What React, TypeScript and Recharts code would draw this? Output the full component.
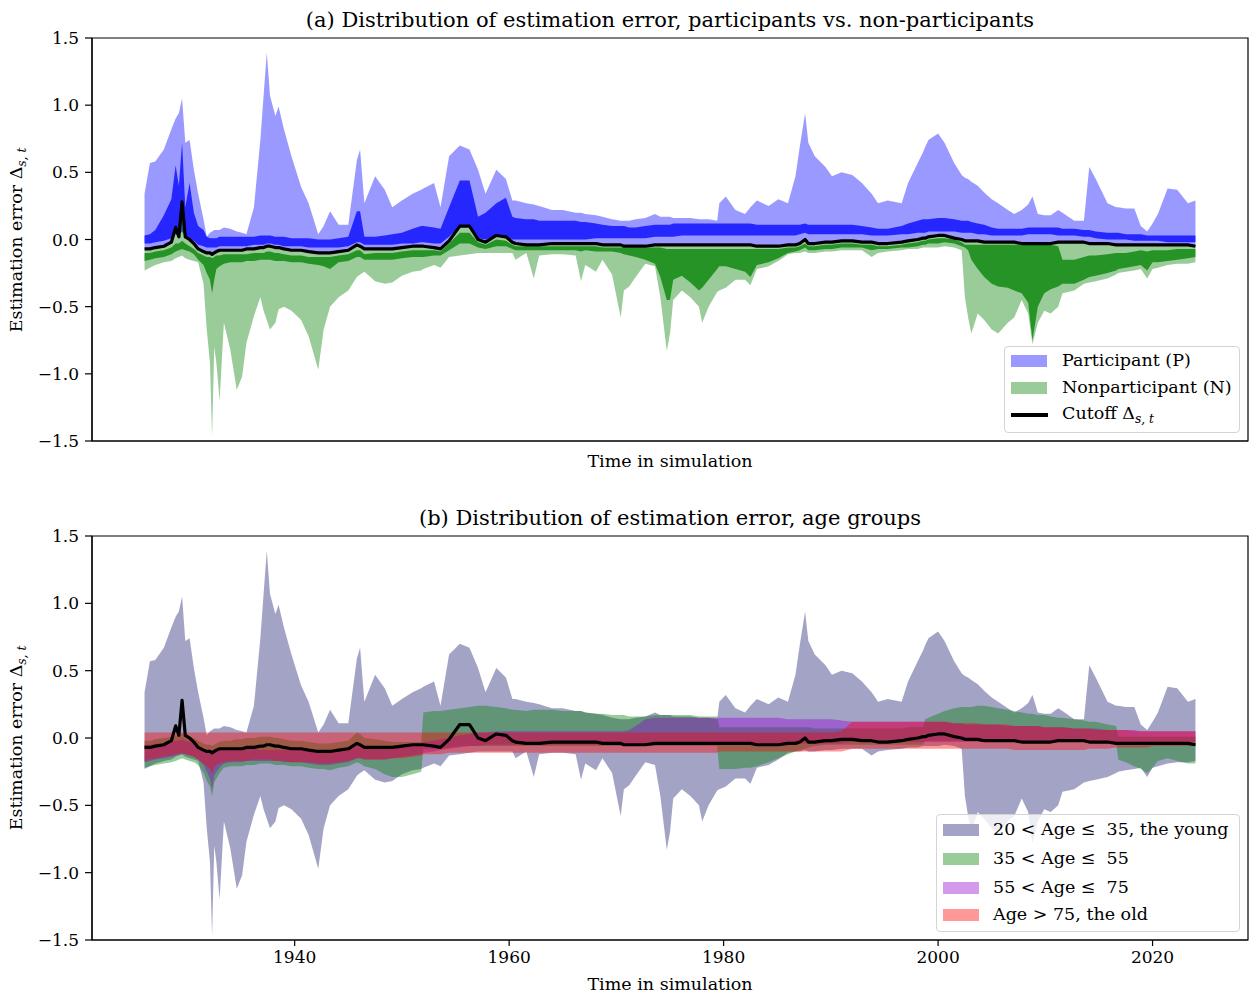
import React from "react";
import { ComposedChart, Area, Line, XAxis, YAxis, ReferenceArea } from "recharts";

// Sample times (years); denser around the spikes
const YEARS = [
  1926.0, 1926.5, 1927.0, 1927.8, 1928.5, 1928.9, 1929.2, 1929.5, 1929.8, 1930.2,
  1930.6, 1931.0, 1931.5, 1931.8, 1932.1, 1932.3, 1932.5, 1932.7, 1933.0, 1933.4,
  1934.0, 1934.6, 1935.1, 1935.5, 1936.2, 1936.8, 1937.1, 1937.4, 1937.7, 1938.2,
  1938.5, 1939.0, 1939.7, 1940.6, 1941.3, 1942.2, 1942.7, 1943.3, 1944.1, 1945.0,
  1945.8, 1946.1, 1946.5, 1947.5, 1948.4, 1949.1, 1950.0, 1951.0, 1951.8,
  1952.0, 1953.0, 1953.6, 1954.4, 1955.4, 1956.3, 1957.1, 1957.8, 1958.8, 1959.7,
  1960.3, 1960.6, 1961.6, 1962.3, 1962.8, 1964.0, 1965.0, 1966.2, 1966.7, 1967.1,
  1968.1, 1968.7, 1969.6, 1970.4, 1970.7, 1971.2, 1971.8, 1972.7, 1973.6, 1974.1,
  1974.7, 1975.0, 1975.3, 1976.1, 1976.9, 1977.7, 1978.0, 1978.6, 1979.4,
  1979.6, 1980.2, 1981.1, 1982.0, 1982.5, 1983.1, 1984.2, 1985.1, 1986.0, 1986.7,
  1987.1, 1987.6, 1987.9, 1988.5, 1989.5, 1990.1, 1991.0, 1992.0, 1992.9, 1993.8,
  1994.4, 1995.3, 1996.6, 1997.2, 1998.1, 1998.6, 1998.8, 1999.1, 2000.0, 2000.6,
  2001.5, 2002.2,
  2002.5, 2002.8, 2003.1, 2003.7, 2004.3, 2005.0, 2005.6, 2006.5, 2007.1, 2007.8,
  2008.4, 2008.8, 2009.3, 2009.9, 2010.5, 2011.2, 2011.6, 2012.7, 2013.6, 2014.1,
  2014.7, 2015.8, 2016.6, 2016.8, 2017.5, 2018.3, 2018.9, 2019.5, 2020.0, 2020.5,
  2021.4, 2022.3, 2023.3, 2024.0,
];

// Participation cutoff Δ_{s,t}
const CUTOFF = [
  -0.07, -0.07, -0.06, -0.05, -0.02, 0.09, 0.02, 0.28, 0.02, 0.0,
  -0.03, -0.07, -0.09, -0.1, -0.1, -0.11, -0.1, -0.09, -0.08, -0.08,
  -0.08, -0.08, -0.08, -0.07, -0.07, -0.06, -0.06, -0.05, -0.05, -0.06,
  -0.06, -0.07, -0.08, -0.08, -0.09, -0.1, -0.1, -0.1, -0.09, -0.08,
  -0.04, -0.05, -0.07, -0.07, -0.07, -0.07, -0.06, -0.05, -0.05,
  -0.05, -0.06, -0.07, -0.01, 0.1, 0.1, 0.0, -0.02, 0.03, 0.02,
  -0.02, -0.03, -0.04, -0.04, -0.04, -0.03, -0.03, -0.03, -0.03, -0.03,
  -0.03, -0.04, -0.04, -0.04, -0.05, -0.05, -0.05, -0.05, -0.04, -0.04,
  -0.04, -0.04, -0.04, -0.04, -0.04, -0.04, -0.04, -0.04, -0.04,
  -0.04, -0.04, -0.04, -0.04, -0.04, -0.05, -0.05, -0.05, -0.04, -0.04,
  -0.03, 0.0, -0.03, -0.03, -0.02, -0.02, -0.01, -0.01, -0.02, -0.02,
  -0.03, -0.03, -0.02, -0.01, 0.0, 0.01, 0.01, 0.02, 0.03, 0.03,
  0.01, 0.0,
  -0.01, -0.01, -0.01, -0.01, -0.02, -0.02, -0.02, -0.02, -0.02, -0.03,
  -0.03, -0.03, -0.03, -0.03, -0.03, -0.02, -0.02, -0.02, -0.02, -0.03,
  -0.03, -0.03, -0.04, -0.04, -0.04, -0.04, -0.04, -0.04, -0.04, -0.04,
  -0.04, -0.04, -0.04, -0.05,
];

// Participants: upper edge of the outer band (lower edge is the cutoff)
const PART_HI = [
  0.34, 0.57, 0.58, 0.67, 0.82, 0.9, 0.94, 1.05, 0.72, 0.74,
  0.52, 0.34, 0.15, 0.02, 0.05, 0.06, 0.07, 0.07, 0.07, 0.09,
  0.08, 0.06, 0.05, 0.04, 0.24, 0.74, 1.07, 1.39, 1.07, 0.92,
  0.99, 0.82, 0.62, 0.39, 0.27, 0.04, 0.1, 0.21, 0.11, 0.11,
  0.59, 0.67, 0.27, 0.47, 0.37, 0.24, 0.29, 0.34, 0.37,
  0.38, 0.42, 0.24, 0.62, 0.7, 0.67, 0.52, 0.34, 0.52, 0.45,
  0.29, 0.29, 0.27, 0.26, 0.25, 0.22, 0.22, 0.2, 0.2, 0.19,
  0.18, 0.17, 0.15, 0.14, 0.14, 0.14, 0.15, 0.16, 0.19, 0.17,
  0.17, 0.17, 0.16, 0.16, 0.16, 0.15, 0.15, 0.15, 0.14,
  0.27, 0.32, 0.22, 0.19, 0.24, 0.29, 0.25, 0.3, 0.27, 0.47,
  0.69, 0.94, 0.72, 0.62, 0.54, 0.47, 0.5, 0.48, 0.42, 0.34,
  0.27, 0.29, 0.27, 0.42, 0.57, 0.65, 0.69, 0.74, 0.79, 0.72,
  0.57, 0.48,
  0.46, 0.45, 0.43, 0.4, 0.35, 0.3, 0.27, 0.22, 0.19, 0.22,
  0.26, 0.32, 0.19, 0.18, 0.18, 0.22, 0.2, 0.14, 0.14, 0.54,
  0.45, 0.27, 0.24, 0.24, 0.23, 0.23, 0.1, 0.06, 0.12, 0.19,
  0.38, 0.37, 0.27, 0.29,
];

// Participants: inner band
const PART_CORE_LO = [
  -0.03, -0.03, -0.02, -0.01, 0.01, 0.04, 0.03, 0.06, 0.02, 0.01,
  -0.01, -0.04, -0.05, -0.06, -0.06, -0.06, -0.06, -0.06, -0.05, -0.05,
  -0.05, -0.05, -0.05, -0.05, -0.04, -0.04, -0.04, -0.03, -0.03, -0.04,
  -0.04, -0.05, -0.05, -0.05, -0.06, -0.06, -0.06, -0.06, -0.06, -0.05,
  -0.02, -0.02, -0.04, -0.04, -0.04, -0.04, -0.03, -0.03, -0.02,
  -0.02, -0.03, -0.03, 0.02, 0.1, 0.1, 0.01, 0.0, 0.03, 0.02,
  0.0, 0.0, 0.0, 0.0, 0.0, 0.0, 0.0, 0.0, 0.0, 0.0,
  0.01, 0.01, 0.01, 0.01, 0.01, 0.01, 0.01, 0.01, 0.02, 0.02,
  0.02, 0.02, 0.02, 0.03, 0.03, 0.03, 0.03, 0.03, 0.03,
  0.03, 0.03, 0.03, 0.03, 0.03, 0.03, 0.03, 0.03, 0.03, 0.03,
  0.04, 0.05, 0.04, 0.04, 0.04, 0.04, 0.04, 0.04, 0.04, 0.03,
  0.03, 0.03, 0.04, 0.04, 0.05, 0.05, 0.05, 0.06, 0.06, 0.06,
  0.06, 0.05,
  0.05, 0.05, 0.05, 0.04, 0.04, 0.03, 0.03, 0.03, 0.03, 0.03,
  0.04, 0.04, 0.04, 0.04, 0.04, 0.03, 0.03, 0.03, 0.02, 0.02,
  0.01, 0.0, 0.0, 0.0, 0.0, -0.01, -0.01, -0.01, -0.01, -0.01,
  -0.02, -0.02, -0.02, -0.02,
];
const PART_CORE_HI = [
  0.03, 0.04, 0.07, 0.18, 0.3, 0.55, 0.4, 0.72, 0.24, 0.42,
  0.2, 0.1, 0.07, 0.02, 0.01, 0.01, 0.01, 0.01, 0.02, 0.02,
  0.02, 0.02, 0.02, 0.02, 0.02, 0.03, 0.03, 0.03, 0.03, 0.02,
  0.02, 0.02, 0.01, 0.01, 0.01, 0.0, 0.0, 0.0, 0.01, 0.02,
  0.21, 0.21, 0.02, 0.02, 0.03, 0.04, 0.05, 0.08, 0.1,
  0.1, 0.09, 0.08, 0.24, 0.44, 0.44, 0.17, 0.2, 0.27, 0.31,
  0.17, 0.16, 0.15, 0.15, 0.14, 0.14, 0.14, 0.14, 0.13, 0.13,
  0.12, 0.11, 0.1, 0.1, 0.1, 0.09, 0.09, 0.1, 0.11, 0.11,
  0.11, 0.11, 0.12, 0.12, 0.12, 0.12, 0.12, 0.12, 0.12,
  0.12, 0.12, 0.12, 0.12, 0.12, 0.11, 0.11, 0.11, 0.11, 0.11,
  0.11, 0.12, 0.11, 0.11, 0.11, 0.11, 0.11, 0.11, 0.1, 0.09,
  0.08, 0.08, 0.1, 0.12, 0.14, 0.15, 0.15, 0.15, 0.16, 0.16,
  0.15, 0.14,
  0.14, 0.14, 0.13, 0.12, 0.11, 0.09, 0.08, 0.08, 0.08, 0.08,
  0.09, 0.09, 0.09, 0.09, 0.09, 0.09, 0.08, 0.08, 0.07, 0.07,
  0.06, 0.05, 0.05, 0.05, 0.04, 0.04, 0.04, 0.03, 0.03, 0.03,
  0.03, 0.03, 0.03, 0.03,
];

// Nonparticipants: lower edge of the outer band (upper edge is the cutoff)
const NONPART_LO = [
  -0.23, -0.21, -0.19, -0.17, -0.16, -0.14, -0.13, -0.12, -0.14, -0.15,
  -0.16, -0.17, -0.33, -0.67, -0.92, -1.47, -0.8, -0.92, -1.2, -0.62,
  -0.82, -1.12, -1.02, -0.77, -0.57, -0.43, -0.53, -0.6, -0.67, -0.62,
  -0.52, -0.5, -0.53, -0.6, -0.72, -0.97, -0.67, -0.5, -0.43, -0.38,
  -0.28, -0.26, -0.24, -0.31, -0.33, -0.32, -0.27, -0.24, -0.23,
  -0.22, -0.19, -0.21, -0.13, -0.12, -0.11, -0.1, -0.1, -0.1, -0.1,
  -0.1, -0.15, -0.1, -0.29, -0.12, -0.11, -0.11, -0.12, -0.31, -0.19,
  -0.24, -0.15, -0.26, -0.58, -0.38, -0.35, -0.28, -0.18, -0.2, -0.43,
  -0.83, -0.7, -0.45, -0.38, -0.43, -0.5, -0.62, -0.5, -0.39,
  -0.38, -0.36, -0.3, -0.3, -0.34, -0.22, -0.2, -0.16, -0.11, -0.1,
  -0.1, -0.09, -0.1, -0.1, -0.09, -0.09, -0.08, -0.08, -0.08, -0.13,
  -0.1, -0.09, -0.08, -0.07, -0.07, -0.06, -0.06, -0.06, -0.06, -0.05,
  -0.06, -0.08,
  -0.43, -0.58, -0.7, -0.55, -0.6, -0.67, -0.7, -0.62, -0.58, -0.45,
  -0.55, -0.78, -0.62, -0.53, -0.55, -0.5, -0.4, -0.38, -0.33, -0.32,
  -0.31, -0.29, -0.26, -0.25, -0.24, -0.23, -0.22, -0.29, -0.22, -0.21,
  -0.19, -0.18, -0.18, -0.17,
];

// Nonparticipants: inner band
const NONPART_CORE_LO = [
  -0.16, -0.15, -0.14, -0.13, -0.11, -0.09, -0.08, -0.07, -0.08, -0.09,
  -0.11, -0.15, -0.19, -0.25, -0.3, -0.4, -0.3, -0.22, -0.2, -0.18,
  -0.17, -0.17, -0.17, -0.16, -0.16, -0.15, -0.15, -0.15, -0.15, -0.16,
  -0.16, -0.16, -0.17, -0.17, -0.18, -0.19, -0.2, -0.22, -0.17, -0.16,
  -0.13, -0.13, -0.15, -0.15, -0.15, -0.15, -0.14, -0.13, -0.13,
  -0.13, -0.12, -0.12, -0.08, -0.03, -0.03, -0.06, -0.07, -0.05, -0.05,
  -0.07, -0.08, -0.08, -0.08, -0.08, -0.08, -0.08, -0.08, -0.09, -0.08,
  -0.09, -0.09, -0.09, -0.1, -0.11, -0.12, -0.13, -0.15, -0.18, -0.28,
  -0.45, -0.45, -0.3, -0.27, -0.32, -0.38, -0.36, -0.3, -0.22,
  -0.2, -0.2, -0.22, -0.24, -0.28, -0.19, -0.17, -0.14, -0.1, -0.09,
  -0.08, -0.06, -0.08, -0.08, -0.07, -0.07, -0.06, -0.06, -0.06, -0.08,
  -0.07, -0.07, -0.06, -0.06, -0.05, -0.04, -0.04, -0.03, -0.03, -0.02,
  -0.03, -0.05,
  -0.06, -0.08, -0.15, -0.22, -0.28, -0.33, -0.35, -0.36, -0.38, -0.4,
  -0.47, -0.75, -0.5, -0.4, -0.37, -0.35, -0.33, -0.33, -0.3, -0.28,
  -0.27, -0.25, -0.23, -0.22, -0.21, -0.2, -0.19, -0.23, -0.17, -0.17,
  -0.16, -0.15, -0.14, -0.13,
];
const NONPART_CORE_HI = [
  -0.1, -0.1, -0.09, -0.08, -0.06, -0.03, -0.03, -0.01, -0.03, -0.05,
  -0.07, -0.1, -0.12, -0.13, -0.13, -0.14, -0.13, -0.12, -0.12, -0.11,
  -0.11, -0.11, -0.11, -0.11, -0.1, -0.1, -0.1, -0.09, -0.09, -0.1,
  -0.1, -0.11, -0.12, -0.12, -0.13, -0.13, -0.13, -0.13, -0.12, -0.11,
  -0.08, -0.08, -0.11, -0.1, -0.1, -0.1, -0.09, -0.08, -0.08,
  -0.08, -0.08, -0.09, -0.03, 0.05, 0.05, -0.02, -0.04, 0.0, -0.01,
  -0.04, -0.05, -0.05, -0.05, -0.05, -0.05, -0.05, -0.05, -0.05, -0.05,
  -0.05, -0.06, -0.06, -0.06, -0.06, -0.06, -0.06, -0.06, -0.06, -0.06,
  -0.07, -0.07, -0.07, -0.07, -0.07, -0.07, -0.07, -0.07, -0.07,
  -0.07, -0.07, -0.07, -0.07, -0.07, -0.07, -0.07, -0.07, -0.06, -0.06,
  -0.05, -0.03, -0.05, -0.05, -0.04, -0.04, -0.03, -0.03, -0.04, -0.04,
  -0.05, -0.05, -0.04, -0.03, -0.02, -0.01, -0.01, 0.0, 0.01, 0.01,
  0.0, -0.02,
  -0.04, -0.04, -0.04, -0.04, -0.04, -0.04, -0.04, -0.04, -0.04, -0.04,
  -0.04, -0.04, -0.04, -0.04, -0.04, -0.05, -0.15, -0.15, -0.13, -0.12,
  -0.12, -0.11, -0.1, -0.1, -0.1, -0.09, -0.08, -0.09, -0.08, -0.08,
  -0.08, -0.07, -0.07, -0.07,
];

// Age 35-55
const AGE_35_55_LO = [
  -0.22, -0.21, -0.2, -0.19, -0.18, -0.17, -0.16, -0.15, -0.16, -0.17,
  -0.18, -0.2, -0.26, -0.32, -0.36, -0.43, -0.33, -0.3, -0.26, -0.22,
  -0.21, -0.21, -0.21, -0.2, -0.2, -0.19, -0.19, -0.19, -0.19, -0.2,
  -0.2, -0.2, -0.21, -0.21, -0.22, -0.23, -0.23, -0.24, -0.22, -0.21,
  -0.18, -0.19, -0.21, -0.23, -0.27, -0.29, -0.29, -0.27, -0.25,
  -0.08, -0.08, -0.08, -0.07, -0.06, -0.06, -0.06, -0.06, -0.06, -0.06,
  -0.06, -0.06, -0.06, -0.06, -0.06, -0.06, -0.06, -0.06, -0.06, -0.06,
  -0.06, -0.06, -0.06, -0.06, -0.06, -0.06, -0.06, -0.06, -0.06, -0.06,
  -0.06, -0.06, -0.06, -0.06, -0.06, -0.06, -0.06, -0.06, -0.06,
  -0.23, -0.23, -0.23, -0.22, -0.22, -0.21, -0.18, -0.15, -0.12, -0.1,
  -0.09, -0.08, -0.07, -0.06, -0.05, -0.05, -0.05, -0.05, -0.05, -0.05,
  -0.05, -0.05, -0.05, -0.05, -0.05, -0.05, -0.02, -0.02, -0.02, -0.02,
  -0.02, -0.02,
  -0.02, -0.02, -0.02, -0.02, -0.02, -0.02, -0.02, -0.02, -0.02, -0.02,
  -0.02, -0.02, -0.02, -0.02, -0.02, -0.02, -0.02, -0.03, -0.03, -0.03,
  -0.03, -0.03, -0.03, -0.16, -0.18, -0.21, -0.23, -0.26, -0.22, -0.17,
  -0.15, -0.17, -0.19, -0.19,
];
const AGE_35_55_HI = [
  -0.02, -0.02, -0.01, 0.0, 0.01, 0.02, 0.02, 0.03, 0.02, 0.01,
  0.0, -0.02, -0.04, -0.05, -0.05, -0.06, -0.05, -0.04, -0.03, -0.02,
  -0.02, -0.01, -0.01, 0.0, 0.0, 0.01, 0.01, 0.01, 0.01, 0.0,
  0.0, -0.01, -0.02, -0.02, -0.03, -0.04, -0.04, -0.04, -0.03, -0.02,
  0.04, 0.03, 0.0, -0.01, -0.02, -0.03, -0.03, -0.03, -0.03,
  0.19, 0.2, 0.2, 0.21, 0.22, 0.23, 0.24, 0.24, 0.23, 0.22,
  0.21, 0.21, 0.2, 0.21, 0.21, 0.21, 0.2, 0.2, 0.2, 0.19,
  0.18, 0.18, 0.17, 0.17, 0.17, 0.16, 0.16, 0.16, 0.17, 0.17,
  0.17, 0.17, 0.17, 0.17, 0.17, 0.16, 0.16, 0.16, 0.16,
  0.08, 0.08, 0.08, 0.08, 0.08, 0.08, 0.08, 0.08, 0.08, 0.08,
  0.08, 0.08, 0.08, 0.07, 0.07, 0.07, 0.07, 0.07, 0.07, 0.07,
  0.07, 0.07, 0.07, 0.08, 0.08, 0.08, 0.14, 0.15, 0.18, 0.2,
  0.22, 0.23,
  0.23, 0.23, 0.23, 0.24, 0.24, 0.23, 0.22, 0.21, 0.2, 0.19,
  0.18, 0.18, 0.17, 0.17, 0.16, 0.15, 0.15, 0.14, 0.13, 0.12,
  0.12, 0.1, 0.09, 0.01, 0.01, 0.01, 0.01, 0.01, 0.01, 0.01,
  0.01, 0.01, 0.01, 0.01,
];

// Age 55-75
const AGE_55_75_LO = [
  -0.18, -0.17, -0.16, -0.15, -0.14, -0.13, -0.12, -0.12, -0.12, -0.13,
  -0.14, -0.16, -0.2, -0.25, -0.3, -0.38, -0.28, -0.25, -0.22, -0.19,
  -0.18, -0.18, -0.18, -0.17, -0.17, -0.17, -0.17, -0.17, -0.17, -0.17,
  -0.17, -0.18, -0.18, -0.18, -0.19, -0.2, -0.2, -0.2, -0.19, -0.18,
  -0.15, -0.15, -0.16, -0.16, -0.16, -0.15, -0.14, -0.13, -0.12,
  -0.11, -0.1, -0.09, -0.08, -0.07, -0.06, -0.06, -0.05, -0.05, -0.05,
  -0.05, -0.05, -0.05, -0.05, -0.05, -0.05, -0.05, -0.05, -0.05, -0.05,
  -0.05, -0.05, -0.05, -0.05, -0.05, -0.05, -0.05, -0.05, -0.04, -0.04,
  -0.04, -0.04, -0.04, -0.04, -0.04, -0.04, -0.04, -0.04, -0.04,
  -0.04, -0.04, -0.04, -0.04, -0.04, -0.04, -0.04, -0.04, -0.04, -0.04,
  -0.04, -0.04, -0.04, -0.04, -0.04, -0.04, -0.04, -0.03, -0.03, -0.03,
  -0.03, -0.03, -0.03, -0.03, -0.03, -0.03, -0.03, -0.03, -0.03, -0.03,
  -0.03, -0.03,
  -0.03, -0.03, -0.03, -0.03, -0.03, -0.03, -0.03, -0.03, -0.03, -0.03,
  -0.03, -0.03, -0.03, -0.03, -0.03, -0.03, -0.03, -0.03, -0.03, -0.03,
  -0.03, -0.03, -0.03, -0.03, -0.03, -0.03, -0.03, -0.03, -0.03, -0.03,
  -0.03, -0.03, -0.03, -0.03,
];
const AGE_55_75_HI = [
  -0.05, -0.05, -0.04, -0.04, -0.03, -0.02, -0.02, -0.01, -0.02, -0.03,
  -0.04, -0.06, -0.08, -0.09, -0.09, -0.1, -0.09, -0.09, -0.08, -0.08,
  -0.08, -0.08, -0.08, -0.08, -0.08, -0.09, -0.09, -0.09, -0.09, -0.09,
  -0.09, -0.09, -0.09, -0.09, -0.1, -0.1, -0.1, -0.1, -0.1, -0.09,
  -0.06, -0.06, -0.08, -0.08, -0.07, -0.06, -0.05, -0.04, -0.04,
  -0.03, -0.02, -0.01, 0.0, 0.02, 0.03, 0.04, 0.04, 0.05, 0.05,
  0.05, 0.05, 0.05, 0.05, 0.05, 0.05, 0.05, 0.05, 0.05, 0.05,
  0.05, 0.05, 0.05, 0.05, 0.05, 0.06, 0.09, 0.14, 0.15, 0.15,
  0.15, 0.15, 0.15, 0.15, 0.15, 0.15, 0.15, 0.15, 0.15,
  0.15, 0.15, 0.15, 0.15, 0.15, 0.15, 0.15, 0.15, 0.14, 0.14,
  0.14, 0.14, 0.14, 0.14, 0.14, 0.14, 0.13, 0.12, 0.12, 0.12,
  0.12, 0.12, 0.12, 0.12, 0.12, 0.12, 0.12, 0.12, 0.12, 0.12,
  0.11, 0.11,
  0.1, 0.1, 0.1, 0.1, 0.1, 0.1, 0.1, 0.09, 0.09, 0.09,
  0.09, 0.09, 0.09, 0.08, 0.08, 0.08, 0.08, 0.07, 0.07, 0.07,
  0.07, 0.06, 0.06, 0.06, 0.06, 0.06, 0.05, 0.05, 0.05, 0.05,
  0.05, 0.05, 0.05, 0.05,
];

// Age above 75
const AGE_75_LO = [
  -0.17, -0.16, -0.15, -0.14, -0.13, -0.12, -0.12, -0.11, -0.12, -0.13,
  -0.14, -0.16, -0.19, -0.21, -0.23, -0.26, -0.22, -0.2, -0.19, -0.18,
  -0.17, -0.17, -0.17, -0.17, -0.16, -0.16, -0.16, -0.16, -0.16, -0.17,
  -0.17, -0.17, -0.18, -0.18, -0.18, -0.19, -0.19, -0.19, -0.18, -0.17,
  -0.15, -0.15, -0.16, -0.16, -0.16, -0.15, -0.15, -0.14, -0.13,
  -0.12, -0.12, -0.12, -0.11, -0.11, -0.11, -0.11, -0.11, -0.11, -0.11,
  -0.11, -0.11, -0.11, -0.11, -0.11, -0.11, -0.11, -0.11, -0.11, -0.11,
  -0.11, -0.11, -0.11, -0.11, -0.11, -0.11, -0.11, -0.11, -0.11, -0.11,
  -0.11, -0.11, -0.11, -0.11, -0.11, -0.11, -0.11, -0.11, -0.11,
  -0.1, -0.1, -0.1, -0.1, -0.1, -0.1, -0.1, -0.1, -0.1, -0.1,
  -0.1, -0.1, -0.1, -0.1, -0.1, -0.1, -0.1, -0.08, -0.08, -0.08,
  -0.08, -0.08, -0.08, -0.08, -0.08, -0.08, -0.08, -0.08, -0.08, -0.08,
  -0.08, -0.08,
  -0.08, -0.08, -0.08, -0.08, -0.08, -0.08, -0.08, -0.08, -0.09, -0.09,
  -0.09, -0.09, -0.09, -0.09, -0.09, -0.09, -0.09, -0.09, -0.09, -0.08,
  -0.08, -0.08, -0.07, -0.07, -0.07, -0.07, -0.07, -0.07, -0.06, -0.06,
  -0.06, -0.06, -0.06, -0.06,
];
const AGE_75_HI = [
  0.04, 0.04, 0.04, 0.04, 0.04, 0.04, 0.04, 0.04, 0.04, 0.04,
  0.04, 0.04, 0.04, 0.04, 0.04, 0.04, 0.04, 0.04, 0.04, 0.04,
  0.04, 0.04, 0.04, 0.04, 0.04, 0.04, 0.04, 0.04, 0.04, 0.04,
  0.04, 0.04, 0.04, 0.04, 0.04, 0.04, 0.04, 0.04, 0.04, 0.04,
  0.04, 0.04, 0.04, 0.04, 0.04, 0.04, 0.04, 0.04, 0.04,
  0.04, 0.04, 0.04, 0.04, 0.04, 0.04, 0.04, 0.04, 0.04, 0.04,
  0.04, 0.04, 0.04, 0.04, 0.04, 0.04, 0.04, 0.04, 0.04, 0.04,
  0.04, 0.04, 0.04, 0.04, 0.04, 0.04, 0.04, 0.04, 0.04, 0.04,
  0.04, 0.04, 0.04, 0.04, 0.04, 0.04, 0.04, 0.04, 0.04,
  0.04, 0.04, 0.04, 0.04, 0.04, 0.04, 0.04, 0.04, 0.04, 0.04,
  0.04, 0.04, 0.04, 0.04, 0.04, 0.04, 0.05, 0.12, 0.12, 0.12,
  0.12, 0.12, 0.12, 0.12, 0.12, 0.12, 0.12, 0.12, 0.12, 0.12,
  0.11, 0.11,
  0.11, 0.11, 0.11, 0.11, 0.1, 0.1, 0.1, 0.1, 0.09, 0.09,
  0.09, 0.09, 0.09, 0.08, 0.08, 0.08, 0.08, 0.07, 0.07, 0.07,
  0.06, 0.06, 0.06, 0.06, 0.06, 0.05, 0.05, 0.05, 0.05, 0.05,
  0.05, 0.05, 0.05, 0.05,
];

const FONT = "'DejaVu Serif', 'Liberation Serif', serif";
const X_DOMAIN: [number, number] = [1921.1, 2028.9];
const X_TICKS = [1940, 1960, 1980, 2000, 2020];
const Y_TICKS = [-1.5, -1.0, -0.5, 0, 0.5, 1.0, 1.5];
const TICK_FONT = { fontFamily: FONT, fontSize: 17, fill: "#000" };

const rows = YEARS.map((t, i) => ({
  t,
  cutoff: CUTOFF[i],
  part: [CUTOFF[i], PART_HI[i]],
  partCore: [PART_CORE_LO[i], PART_CORE_HI[i]],
  nonpart: [NONPART_LO[i], CUTOFF[i]],
  nonpartCore: [NONPART_CORE_LO[i], NONPART_CORE_HI[i]],
  young: [NONPART_LO[i], PART_HI[i]],
  middle: [AGE_35_55_LO[i], AGE_35_55_HI[i]],
  senior: [AGE_55_75_LO[i], AGE_55_75_HI[i]],
  old: [AGE_75_LO[i], AGE_75_HI[i]],
}));

const fmtY = (v: number) => (v < 0 ? "\u2212" : "") + Math.abs(v).toFixed(1);

const Delta = () => (
  <span>
    Δ
    <span style={{ fontStyle: "italic", fontSize: "0.7em", verticalAlign: "-0.3em" }}>s, t</span>
  </span>
);

function band(key: string, fill: string, opacity: number) {
  return (
    <Area
      key={key}
      type="linear"
      dataKey={key}
      stroke="none"
      fill={fill}
      fillOpacity={opacity}
      dot={false}
      activeDot={false}
      isAnimationActive={false}
    />
  );
}

function Axes({ showYears, xHeight }: { showYears: boolean; xHeight: number }) {
  return [
    <XAxis
      key="x"
      type="number"
      dataKey="t"
      domain={X_DOMAIN}
      ticks={X_TICKS}
      allowDataOverflow
      height={xHeight}
      tick={showYears ? TICK_FONT : false}
      tickSize={6}
      tickMargin={5}
      axisLine={{ stroke: "#000", strokeWidth: 1.2 }}
      tickLine={{ stroke: "#000", strokeWidth: 1.2 }}
    />,
    <YAxis
      key="y"
      type="number"
      domain={[-1.5, 1.5]}
      ticks={Y_TICKS}
      allowDataOverflow
      width={92}
      tick={TICK_FONT}
      tickFormatter={fmtY}
      tickSize={7}
      tickMargin={6}
      axisLine={{ stroke: "#000", strokeWidth: 1.2 }}
      tickLine={{ stroke: "#000", strokeWidth: 1.2 }}
    />,
  ];
}

const frame = (
  <ReferenceArea
    x1={X_DOMAIN[0]}
    x2={X_DOMAIN[1]}
    y1={-1.5}
    y2={1.5}
    fill="none"
    stroke="#000"
    strokeWidth={1.2}
    ifOverflow="visible"
  />
);

const cutoffLine = (
  <Line
    type="linear"
    dataKey="cutoff"
    stroke="#000"
    strokeWidth={3.2}
    strokeLinejoin="round"
    dot={false}
    activeDot={false}
    isAnimationActive={false}
  />
);

function Text({ x, y, size, children, rotate }: any) {
  return (
    <div
      style={{
        position: "absolute",
        left: x,
        top: y,
        transform: `translate(-50%, -50%)${rotate ? " rotate(-90deg)" : ""}`,
        whiteSpace: "nowrap",
        fontFamily: FONT,
        fontSize: size,
        lineHeight: 1,
        color: "#000",
      }}
    >
      {children}
    </div>
  );
}

type LegendItem = { label: React.ReactNode; color?: string; line?: boolean };

function LegendBox({ left, top, width, height, rowTops, textLeft, items }: any) {
  return (
    <div
      style={{
        position: "absolute",
        left,
        top,
        width,
        height,
        boxSizing: "border-box",
        border: "1px solid #d4d4d4",
        borderRadius: 4,
        background: "rgba(255,255,255,0.8)",
        fontFamily: FONT,
        fontSize: 17.5,
      }}
    >
      {items.map((it: LegendItem, i: number) => (
        <React.Fragment key={i}>
          {it.line ? (
            <div style={{ position: "absolute", left: 6, top: rowTops[i] - 1.6, width: 37, height: 3.2, background: "#000" }} />
          ) : (
            <div style={{ position: "absolute", left: 6, top: rowTops[i] - 6, width: 36, height: 12, background: it.color }} />
          )}
          <div style={{ position: "absolute", left: textLeft, top: rowTops[i], transform: "translateY(-50%)", whiteSpace: "pre", lineHeight: 1 }}>
            {it.label}
          </div>
        </React.Fragment>
      ))}
    </div>
  );
}

export default function App() {
  return (
    <div style={{ position: "absolute", left: 0, top: 0, width: 1249, height: 995, background: "#fff" }}>
      {/* (a) participants vs. nonparticipants */}
      <div style={{ position: "absolute", left: 0, top: 0 }}>
        <ComposedChart width={1249} height={470} data={rows} margin={{ top: 38, right: 1, bottom: 0, left: 0 }}>
          {Axes({ showYears: false, xHeight: 29 })}
          {band("part", "#0000ff", 0.4)}
          {band("partCore", "#0000ff", 0.75)}
          {band("nonpart", "#008000", 0.4)}
          {band("nonpartCore", "#008000", 0.75)}
          {cutoffLine}
          {frame}
        </ComposedChart>
      </div>

      {/* (b) age groups */}
      <div style={{ position: "absolute", left: 0, top: 498 }}>
        <ComposedChart width={1249} height={497} data={rows} margin={{ top: 38, right: 1, bottom: 25, left: 0 }}>
          {Axes({ showYears: true, xHeight: 30 })}
          {band("young", "#191970", 0.4)}
          {band("middle", "#008000", 0.4)}
          {band("senior", "#9400d3", 0.4)}
          {band("old", "#ff0000", 0.4)}
          {cutoffLine}
          {frame}
        </ComposedChart>
      </div>

      <Text x={670} y={20} size={21}>
        (a) Distribution of estimation error, participants vs. non-participants
      </Text>
      <Text x={670} y={518} size={21}>
        (b) Distribution of estimation error, age groups
      </Text>
      <Text x={670} y={462} size={17.5}>Time in simulation</Text>
      <Text x={670} y={985} size={17.5}>Time in simulation</Text>
      <Text x={18} y={240} size={17.5} rotate>
        Estimation error <Delta />
      </Text>
      <Text x={18} y={738} size={17.5} rotate>
        Estimation error <Delta />
      </Text>

      <LegendBox
        left={1004}
        top={346}
        width={236}
        height={87}
        rowTops={[14, 40.5, 68]}
        textLeft={57}
        items={[
          { label: "Participant (P)", color: "#9999ff" },
          { label: "Nonparticipant (N)", color: "#99cc99" },
          { label: <span>Cutoff <Delta /></span>, line: true },
        ]}
      />
      <LegendBox
        left={936}
        top={814}
        width={304}
        height={118}
        rowTops={[15, 43.5, 72.5, 100]}
        textLeft={56}
        items={[
          { label: "20 < Age \u2264  35, the young", color: "#a3a3c6" },
          { label: "35 < Age \u2264  55", color: "#99cc99" },
          { label: "55 < Age \u2264  75", color: "#d499ed" },
          { label: "Age > 75, the old", color: "#ff9999" },
        ]}
      />
    </div>
  );
}
